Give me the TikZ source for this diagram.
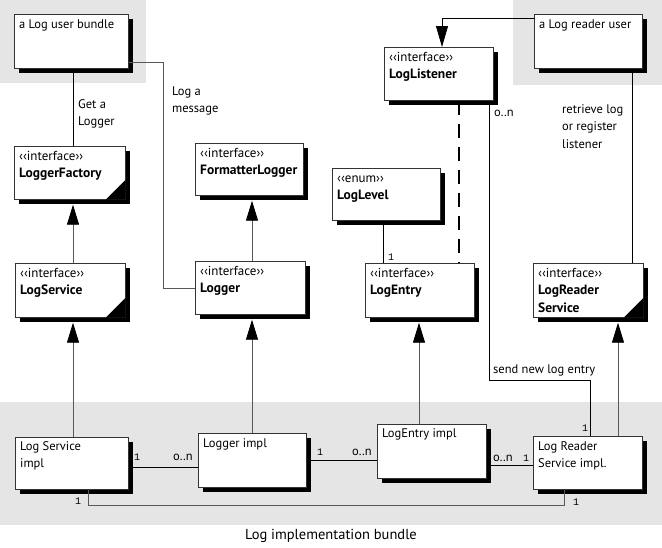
\documentclass[tikz,border=0pt]{standalone}
\usepackage{fontspec}
\setmainfont{PT Sans}
\newfontfamily\multfont{Liberation Mono}
\usetikzlibrary{arrows.meta,shadows,calc}
\newcommand\umlbox[5]{\node[umlbox, minimum width={#4-#2}, minimum height={#5-#3}] (#1) at (#2,#3) {};}
\newcommand\umlfold[1]{\fill[black] ([yshift=20pt]#1.south east) -- (#1.south east) -- ([xshift=-20pt]#1.south east) -- cycle;}
\newcommand\stereo[1]{{\fontsize{13}{17}\selectfont ‹‹#1››}}
\newcommand\cname[1]{{\fontsize{13.5}{17}\selectfont\bfseries #1}}
\begin{document}
\begin{tikzpicture}[x=1pt,y=-1pt,
  region/.style={fill=black!10, draw=none},
  umlbox/.style={draw=black!80, line width=0.7pt, fill=white, anchor=north west, inner sep=0pt,
    drop shadow={shadow xshift=5pt, shadow yshift=-5pt, opacity=1, fill=black}},
  txt/.style={anchor=base west, inner sep=0pt, align=left, font=\fontsize{12.5}{17}\selectfont},
  lbl/.style={anchor=base west, inner sep=0pt, align=left, font=\fontsize{12.5}{17.5}\selectfont},
  mult/.style={anchor=base west, inner sep=0pt, font=\fontsize{12.5}{14}\selectfont},
  one/.style={anchor=base west, inner sep=0pt, font=\multfont\fontsize{10}{12}\selectfont},
  plain/.style={draw=black, line width=0.8pt},
  grayline/.style={draw=black!65, line width=0.9pt},
  inh/.style={draw=black!65, line width=0.9pt, -{Triangle[length=20pt,width=12pt,color=black]}},
  tip/.style={-{Triangle[length=21pt,width=12pt,color=black]}},
  dashline/.style={draw=black, line width=1.4pt, dash pattern=on 14pt off 9pt},
]
\useasboundingbox (0,0) rectangle (662,547);
% regions
\fill[region] (0,0) rectangle (146,83);
\fill[region] (513,0) rectangle (662,85);
\fill[region] (0,402) rectangle (662,525);
% boxes
\umlbox{ub}{14}{14}{128}{68}
\umlbox{ru}{534}{14}{642}{68}
\umlbox{ll}{384}{47}{493}{100}
\umlbox{lf}{14}{146}{125}{199}
\umlbox{fl}{195}{143}{303}{195}
\umlbox{lv}{332}{168}{440}{220}
\umlbox{ls}{15}{263}{125}{317}
\umlbox{lg}{195}{261}{305}{314}
\umlbox{le}{365}{263}{474}{317}
\umlbox{lrs}{533}{263}{643}{317}
\umlbox{lsi}{15}{437}{128}{489}
\umlbox{lgi}{198}{433}{306}{487}
\umlbox{lei}{377}{424}{486}{478}
\umlbox{lri}{533}{436}{642}{489}
\umlfold{lf}
\umlfold{ls}
\umlfold{lrs}
% texts (base anchor = last line)
\node[txt] (ub-t) at (19,28) {a Log user bundle};
\node[txt] (ru-t) at (539,28) {a Log reader user};
\node[txt] (ll-t) at (389,78) {\stereo{interface}\\\cname{LogListener}};
\node[txt] (lf-t) at (19,177) {\stereo{interface}\\\cname{LoggerFactory}};
\node[txt] (fl-t) at (200,174) {\stereo{interface}\\\cname{FormatterLogger}};
\node[txt] (lv-t) at (337,199) {\stereo{enum}\\\cname{LogLevel}};
\node[txt] (ls-t) at (20,294) {\stereo{interface}\\\cname{LogService}};
\node[txt] (lg-t) at (200,292) {\stereo{interface}\\\cname{Logger}};
\node[txt] (le-t) at (370,294) {\stereo{interface}\\\cname{LogEntry}};
\node[txt] (lrs-t) at (538,312) {\stereo{interface}\\\cname{LogReader}\\[1pt]\cname{Service}};
\node[txt] (lsi-t) at (20,467) {Log Service\\impl};
\node[txt] (lgi-t) at (203,447) {Logger impl};
\node[txt] (lei-t) at (382,437) {LogEntry impl};
\node[txt] (lri-t) at (538,467) {Log Reader\\Service impl.};
% user connectors
\draw[plain] (73,0 |- ub.south) -- (73,0 |- lf.north);
\node[lbl] (l1) at (78,125.5) {Get a\\Logger};
\draw[grayline] (ub.east |- 0,62) -- (163,62) -- (163,288) -- (lg.west |- 0,288);
\node[lbl] (l2) at (172,112.5) {Log a\\message};
\draw[plain,tip] (ru.west |- 0,18) -- (442,18) -- (442,0 |- ll.north);
\draw[plain] (632,0 |- ru.south) -- (632,0 |- lrs.north);
\node[lbl] (l3) at (562,148) {retrieve log\\or register\\listener};
% listener
\draw[dashline] (459,0 |- ll.south) -- (459,0 |- le.north);
\draw[plain] (489,0 |- ll.south) -- (489,380) -- (590,380) -- (590,0 |- lri.north);
\node[lbl] (l4) at (493,373) {send new log entry};
\node[mult] (m1) at (494,116) {o..n};
\node[one] (m2) at (582,431) {1};
\draw[plain] (383,0 |- lv.south) -- (383,0 |- le.north);
\node[one] (m3) at (388,260) {1};
% inheritance
\draw[inh] (73,0 |- ls.north) -- ($(73,0 |- lf.south)+(0,5)$);
\draw[inh] (252,0 |- lg.north) -- ($(252,0 |- fl.south)+(0,5)$);
\draw[inh] (73,0 |- lsi.north) -- ($(73,0 |- ls.south)+(0,5)$);
\draw[inh] (252,0 |- lgi.north) -- ($(252,0 |- lg.south)+(0,5)$);
\draw[inh] (419,0 |- lei.north) -- ($(419,0 |- le.south)+(0,5)$);
\draw[inh] (618,0 |- lri.north) -- ($(618,0 |- lrs.south)+(0,5)$);
% impl associations
\draw[plain] (lsi.east |- 0,467) -- (lgi.west |- 0,467);
\node[one] (m4) at (134,460) {1};
\node[mult] (m5) at (173,460) {o..n};
\draw[plain] (lgi.east |- 0,460) -- (lei.west |- 0,460);
\node[one] (m6) at (317,455) {1};
\node[mult] (m7) at (352,455) {o..n};
\draw[plain] (lei.east |- 0,465) -- (lri.west |- 0,465);
\node[mult] (m8) at (493,461) {o..n};
\node[one] (m9) at (523,461) {1};
\draw[grayline] (88,0 |- lsi.south) -- (88,505) -- (564,505) -- (564,0 |- lri.south);
\node[one] (m10) at (75,504) {1};
\node[one] (m11) at (573,505) {1};
% title
\node[anchor=base, inner sep=0pt, font=\fontsize{14.5}{16}\selectfont] (title) at (331,539) {Log implementation bundle};
\end{tikzpicture}
\end{document}
